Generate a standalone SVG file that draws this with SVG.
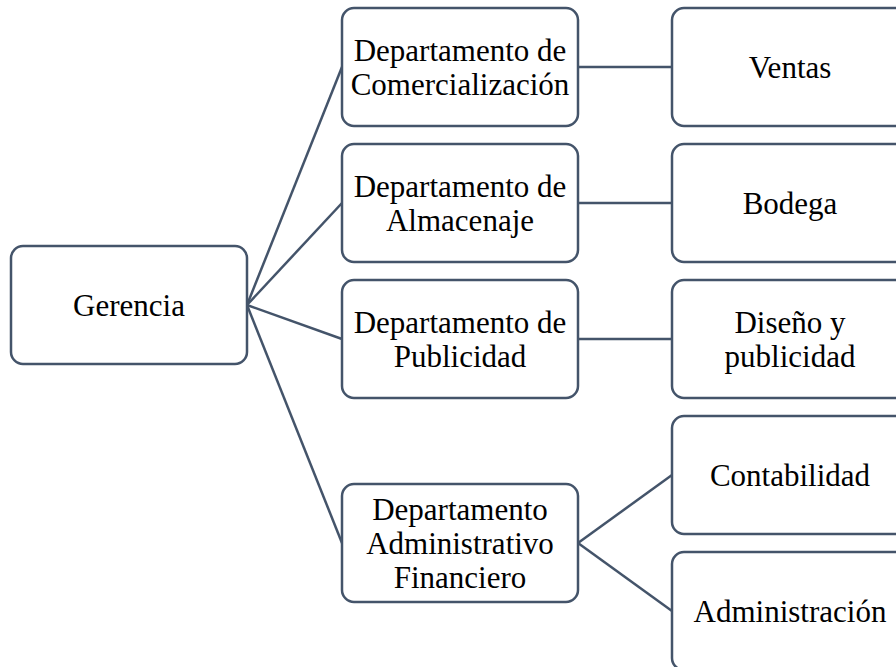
<svg xmlns="http://www.w3.org/2000/svg" width="896" height="667" viewBox="0 0 896 667">
<style>
.box{fill:#fff;stroke:#44546a;stroke-width:2.5}
.t{font-size:31px;fill:#000;text-anchor:middle}
.c{stroke:#44546a;stroke-width:2.5;fill:none}
</style>
<rect width="896" height="667" fill="#fff"/>
<g id="connectors">
<line class="c" x1="247" y1="305" x2="342" y2="67"/>
<line class="c" x1="247" y1="305" x2="342" y2="203"/>
<line class="c" x1="247" y1="305" x2="342" y2="339"/>
<line class="c" x1="247" y1="305" x2="342" y2="543"/>
<line class="c" x1="578" y1="67" x2="672" y2="67"/>
<line class="c" x1="578" y1="203" x2="672" y2="203"/>
<line class="c" x1="578" y1="339" x2="672" y2="339"/>
<line class="c" x1="578" y1="543" x2="672" y2="475"/>
<line class="c" x1="578" y1="543" x2="672" y2="611"/>
</g>
<g id="nodes" font-family="Liberation Serif, Times New Roman, serif">
<g id="gerencia"><rect class="box" x="11" y="246" width="236" height="118" rx="12"/><text class="t" x="129" y="316">Gerencia</text></g>
<g id="comercializacion"><rect class="box" x="342" y="8" width="236" height="118" rx="12"/><text class="t" x="460" y="61">Departamento de</text><text class="t" x="460" y="95">Comercialización</text></g>
<g id="almacenaje"><rect class="box" x="342" y="144" width="236" height="118" rx="12"/><text class="t" x="460" y="197">Departamento de</text><text class="t" x="460" y="231">Almacenaje</text></g>
<g id="publicidad"><rect class="box" x="342" y="280" width="236" height="118" rx="12"/><text class="t" x="460" y="333">Departamento de</text><text class="t" x="460" y="367">Publicidad</text></g>
<g id="administrativo"><rect class="box" x="342" y="484" width="236" height="118" rx="12"/><text class="t" x="460" y="520">Departamento</text><text class="t" x="460" y="554">Administrativo</text><text class="t" x="460" y="588">Financiero</text></g>
<g id="ventas"><rect class="box" x="672" y="8" width="236" height="118" rx="12"/><text class="t" x="790" y="78">Ventas</text></g>
<g id="bodega"><rect class="box" x="672" y="144" width="236" height="118" rx="12"/><text class="t" x="790" y="214">Bodega</text></g>
<g id="diseno"><rect class="box" x="672" y="280" width="236" height="118" rx="12"/><text class="t" x="790" y="333">Diseño y</text><text class="t" x="790" y="367">publicidad</text></g>
<g id="contabilidad"><rect class="box" x="672" y="416" width="236" height="118" rx="12"/><text class="t" x="790" y="486">Contabilidad</text></g>
<g id="administracion"><rect class="box" x="672" y="552" width="236" height="118" rx="12"/><text class="t" x="790" y="622">Administración</text></g>
</g>
</svg>
